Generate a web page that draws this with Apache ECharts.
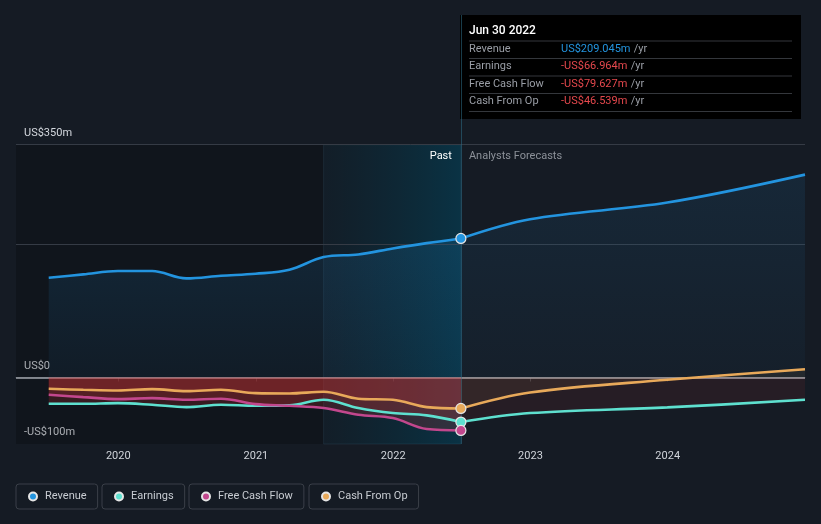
<!DOCTYPE html>
<html><head><meta charset="utf-8">
<script src="https://cdn.jsdelivr.net/npm/echarts/dist/echarts.min.js"></script>
<style>html,body{margin:0;padding:0;background:#151b24;}#c{width:821px;height:524px;}</style>
</head><body><div id="c"></div>
<script>
// ---- data ----
const pastDates = ['2019-06-30','2019-09-30','2019-12-31','2020-03-31','2020-06-30','2020-09-30','2020-12-31','2021-03-31','2021-06-30','2021-09-30','2021-12-31','2022-03-31','2022-06-30'];
const revenuePast  = [150, 155, 160, 160, 149, 153, 156, 162, 181, 185, 194, 202, 209.045];
const earningsPast = [-39.5, -39.5, -38.5, -41, -44.5, -41, -42.5, -42, -33.5, -46, -53.5, -57, -66.964];
const fcfPast      = [-26, -29.5, -32.5, -31, -33.5, -32, -40, -42.5, -46, -56, -61, -77.5, -79.627];
const cfoPast      = [-17, -18.5, -19.5, -17.5, -20.5, -18.5, -23.5, -24, -21.5, -32, -33.5, -44.5, -46.539];

const forecastDates = ['2022-06-30','2022-12-31','2023-12-31','2024-12-31'];
const revenueForecast  = [209.045, 238, 263, 305];
const earningsForecast = [-66.964, -53.5, -45, -33.5];
const cfoForecast      = [-46.539, -22.5, -3.5, 12.5];

const seriesNames = ['Revenue', 'Earnings', 'Free Cash Flow', 'Cash From Op'];
const yLabelValues = [-100, 0, 350];
const yLabelTexts  = ['-US$100m', 'US$0', 'US$350m'];
const gridLineValues = [350, 200];
const xMin = '2019-04-04', xMax = '2024-12-31';
const forecastStart = '2021-06-30', nowDate = '2022-06-30';
const tooltipTitle = 'Jun 30 2022';

// ---- style ----
const C = {rev:'#2394df', earn:'#5ee0cf', fcf:'#c2478d', cfo:'#e8a95a'};
const FONT = 'Roboto, sans-serif';

const pair = (d, v) => d.map((x, i) => [x, v[i]]);
const lastSym = (n) => (val, p) => p.dataIndex === n - 1 ? 'circle' : 'none';
const grad = (a, b, c1, c2) => new echarts.graphic.LinearGradient(0, 0, a, b, [{offset:0, color:c1}, {offset:1, color:c2}]);

function lineSeries(name, color, data, extra) {
  return Object.assign({
    name, type:'line', data, smooth:0.35, color,
    lineStyle:{color, width:2.6},
    symbol: lastSym(data.length), symbolSize: 10,
    itemStyle:{color, borderColor:'#e6e6e6', borderWidth:1.2},
    emphasis:{disabled:true}, silent:true, z:3
  }, extra || {});
}

const red = 'rgba(220,55,55,0.27)';
const series = [
  lineSeries('Revenue', C.rev, pair(pastDates, revenuePast), {
    areaStyle:{color: grad(0,1,'rgba(35,148,223,0.20)','rgba(35,148,223,0.08)')},
    markArea:{silent:true, z:1, data:[
      [{coord:[xMin, -100], itemStyle:{color:'rgba(0,0,0,0.2)'}}, {coord:[forecastStart, 350]}],
      [{coord:[forecastStart, -100], itemStyle:{color: grad(1,0,'rgba(0,55,75,0.10)','rgba(0,70,95,0.55)'), borderColor:'rgba(90,140,160,0.15)', borderWidth:1}}, {coord:[nowDate, 350]}]
    ]},
    markLine:{silent:true, z:2, symbol:['none','none'], label:{show:false},
      data: gridLineValues.map(v => ({yAxis:v, lineStyle:{color:'#353b45', width:1, type:'solid'}}))
        .concat([{yAxis:0, lineStyle:{color:'#a2a6ad', width:1.5, type:'solid'}},
                 {xAxis:nowDate, lineStyle:{color:'rgba(45,110,135,0.55)', width:1, type:'solid'}}])},
    markPoint:{silent:true, symbol:'circle', symbolSize:0, data:[
      {coord:[nowDate, 333], label:{show:true, position:'left', distance:9, formatter:'Past', color:'#ffffff', fontSize:11, fontFamily:FONT}},
      {coord:[nowDate, 333], label:{show:true, position:'right', distance:8, formatter:'Analysts Forecasts', color:'#8c9199', fontSize:11, fontFamily:FONT}}
    ]}
  }),
  lineSeries('Revenue', C.rev, pair(forecastDates, revenueForecast), {
    symbol:'none', areaStyle:{color: grad(0,1,'rgba(35,148,223,0.15)','rgba(35,148,223,0.05)')}
  }),
  lineSeries('Earnings', C.earn, pair(pastDates, earningsPast), {areaStyle:{color:red}}),
  lineSeries('Earnings', C.earn, pair(forecastDates, earningsForecast), {symbol:'none', areaStyle:{color:'rgba(220,55,55,0.12)'}}),
  lineSeries('Free Cash Flow', C.fcf, pair(pastDates, fcfPast), {areaStyle:{color:red}}),
  lineSeries('Cash From Op', C.cfo, pair(pastDates, cfoPast), {areaStyle:{color:red}}),
  lineSeries('Cash From Op', C.cfo, pair(forecastDates, cfoForecast), {symbol:'none', areaStyle:{color:'rgba(232,169,90,0.1)'}})
];
// draw endpoint markers above other lines
series[0].z = 4; series[2].z = 4; series[4].z = 4; series[5].z = 4;

const legendLefts = [16, 102, 189, 309];
const legends = seriesNames.map((n, i) => ({
  data:[n], left:legendLefts[i], top:484, orient:'horizontal', selectedMode:false,
  icon:'circle', itemWidth:8, itemHeight:8,
  padding:[7, 11, 7, 12], borderColor:'#3a3f48', borderWidth:1, borderRadius:3,
  textStyle:{color:'#c8ccd2', fontSize:11, fontFamily:FONT, padding:[0,0,0,3]}
}));

const fmt = v => (v < 0 ? '-US$' : 'US$') + Math.abs(v).toFixed(3) + 'm';
const tipVals = [revenuePast[revenuePast.length-1], earningsPast[earningsPast.length-1], fcfPast[fcfPast.length-1], cfoPast[cfoPast.length-1]];
const rowY = [34.3, 51.5, 69, 86.3];
const sepY = [26, 43.5, 61, 78.5, 96.5];
const tipChildren = [
  {type:'rect', shape:{x:0, y:0, width:341, height:104}, style:{fill:'#000000'}},
  {type:'text', x:9, y:16, style:{text:tooltipTitle, fill:'#ffffff', font:'500 12px ' + FONT, verticalAlign:'middle'}}
];
sepY.forEach(y => tipChildren.push({type:'line', shape:{x1:9, y1:y, x2:332, y2:y}, style:{stroke:'#34373c', lineWidth:1}}));
seriesNames.forEach((n, i) => {
  tipChildren.push({type:'text', x:9, y:rowY[i], style:{text:n, fill:'#9a9ea6', font:'11px ' + FONT, verticalAlign:'middle'}});
  tipChildren.push({type:'text', x:101, y:rowY[i], style:{
    text:'{v|' + fmt(tipVals[i]) + '} {u|/yr}', verticalAlign:'middle',
    rich:{v:{fill: tipVals[i] < 0 ? '#e5484d' : C.rev, font:'11px ' + FONT}, u:{fill:'#9a9ea6', font:'11px ' + FONT}}
  }});
});

const chart = echarts.init(document.getElementById('c'));
chart.setOption({
  backgroundColor:'#151b24',
  animation:false,
  textStyle:{fontFamily:FONT},
  grid:{left:16, right:16, top:15, bottom:80, containLabel:false},
  xAxis:{type:'time', min:xMin, max:xMax, splitNumber:6,
    axisLine:{lineStyle:{color:'#3b404a', width:1}},
    axisTick:{show:true, length:4, lineStyle:{color:'#3b404a'}},
    splitLine:{show:false},
    axisLabel:{color:'#d0d4da', fontSize:11, fontFamily:FONT, margin:7,
      formatter:(val) => { const d = new Date(val); return (d.getMonth() === 0 && d.getDate() === 1) ? String(d.getFullYear()) : ''; }}
  },
  yAxis:{type:'value', min:-100, max:545, interval:50,
    splitLine:{show:false}, axisLine:{show:false}, axisTick:{show:false},
    axisLabel:{inside:true, margin:8, color:'#d4d8de', fontSize:11, fontFamily:FONT,
      verticalAlign:'bottom', padding:[0,0,6,0],
      formatter:(v) => { const k = yLabelValues.indexOf(v); return k >= 0 ? yLabelTexts[k] : ''; }}
  },
  legend: legends,
  series: series,
  graphic:[{type:'group', left:460, top:15, z:100, children:tipChildren}]
});
</script>
</body></html>
